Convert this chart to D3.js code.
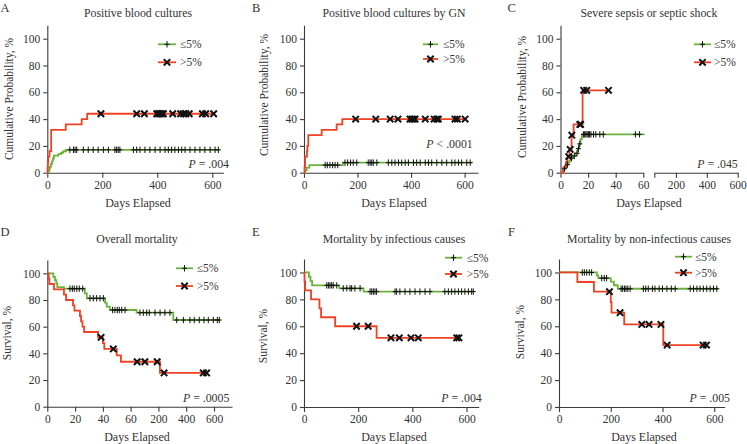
<!DOCTYPE html>
<html><head><meta charset="utf-8">
<script src="https://cdn.jsdelivr.net/npm/d3@7"></script>
<style>
body{margin:0;background:#fff;}
svg text{font-family:"Liberation Serif","DejaVu Serif",serif;fill:#333;}
</style></head><body>
<svg id="c" width="747" height="444"></svg>
<script>
// ---------------- DATA ----------------
const yTicks = [0, 20, 40, 60, 80, 100];
const xTicksLin = [0, 200, 400, 600];
const xTicksD = [0, 20, 40, 60, 200, 400, 600];
const xTicksCLeft = [0, 20, 40, 60];
const xTicksCRight = [60, 200, 400, 600];
const legendLabels = ["≤5%", ">5%"];

// A: Positive blood cultures
const aGreenT = [0, 5, 9, 13, 17, 20, 24, 40, 50, 58, 68];
const aGreenV = [0, 2.1, 4.3, 6.4, 8.5, 10.6, 12.8, 13.8, 14.9, 16, 17.1];
const aGreenCens = [82, 95, 101, 107, 131, 149, 167, 185, 204, 222, 246, 252, 258, 264, 313, 325, 337, 355, 373, 392, 410, 428, 440, 452, 464, 477, 489, 501, 519, 537, 555, 573, 592, 610, 622];
const aGreenEnd = 626;
const aRedT = [0, 1, 2, 3.5, 8, 14, 67, 125, 145];
const aRedV = [0, 4, 8, 12, 16, 32, 36, 40, 44];
const aRedCens = [195, 325, 353, 398, 404, 410, 416, 422, 456, 485, 495, 504, 516, 564, 576, 605];
const aRedEnd = 605;

// B: Positive blood cultures by GN
const bGreenT = [0, 5, 10, 20, 145];
const bGreenV = [0, 1.9, 3.8, 5.7, 7.5];
const bGreenCens = [79, 87, 97, 107, 116, 126, 153, 163, 174, 184, 197, 240, 247, 253, 259, 272, 315, 328, 340, 353, 365, 378, 390, 409, 421, 434, 453, 465, 477, 496, 515, 533, 552, 564, 577, 589, 608, 621];
const bGreenEnd = 627;
const bRedT = [0, 2, 4, 11, 12.5, 16, 66, 122, 143];
const bRedV = [0, 4, 12, 16, 20, 28, 32, 36, 40];
const bRedCens = [193, 268, 322, 351, 396, 403, 409, 415, 453, 486, 496, 502, 564, 573, 602];
const bRedEnd = 602;

// C: Severe sepsis or septic shock
const cGreenT = [0, 1.5, 2.5, 3.5, 4.5, 5.5, 6.5, 7.5, 9, 11, 12.5, 13.5, 14.5, 15.5];
const cGreenV = [0, 1.5, 3, 4.5, 6, 7.5, 9, 11, 12.5, 14.5, 18, 21.5, 25, 28.6];
const cGreenCens = [3, 5, 8, 10, 12, 13, 14, 16.6, 17.5, 18.4, 19.3, 20.2, 21, 22.1, 23.9, 25.6, 28.5, 31, 54.3, 57.2];
const cGreenEnd = 61;
const cRedT = [0, 2, 4, 5, 6.5, 8, 9.5, 16];
const cRedV = [0, 4, 8, 12, 17.4, 28, 36, 61.5];
const cRedCens = [6, 7, 8.2, 14, 14.6, 16.8, 19, 34.8];
const cRedEnd = 34.8;

// D: Overall mortality
const dGreenT = [0, 4.3, 5.5, 6.5, 7.2, 12, 27, 28.4, 41.5, 42.7, 45, 90, 307];
const dGreenV = [100, 97.4, 94.8, 92.2, 89.6, 88.5, 84.9, 81.3, 78, 75, 72.5, 70.5, 65];
const dGreenCens = [16.3, 18, 19.4, 21.2, 23, 25.5, 30.7, 33.1, 35.5, 37.9, 40.3, 47, 48.7, 50.4, 51.8, 53.6, 56, 107, 124, 141, 154, 183, 212, 247, 283, 332, 380, 427, 458, 494, 528, 559, 595, 624, 638];
const dGreenEnd = 643;
const dRedT = [0, 1, 1.5, 4.8, 12, 13.5, 18.5, 19.5, 23.5, 24.3, 25.3, 26.5, 36.5, 40, 41, 50, 53, 211];
const dRedV = [100, 96, 92, 88, 84, 80, 76, 72, 68, 64, 60, 56, 52, 47.7, 43.3, 38.5, 33.7, 25.3];
const dRedCens = [38.7, 47.5, 93, 132, 194, 241, 523, 547];
const dRedEnd = 547;

// E: Mortality by infectious causes
const eGreenT = [0, 18, 24, 30, 130, 220];
const eGreenV = [100, 96.8, 93.6, 90.4, 88.2, 85.8];
const eGreenCens = [84, 90, 96, 102, 108, 121, 145, 158, 170, 176, 188, 207, 244, 250, 256, 262, 268, 336, 342, 354, 373, 391, 410, 428, 447, 465, 520, 533, 545, 557, 570, 582, 594, 607, 619, 625];
const eGreenEnd = 625;
const eRedT = [0, 2, 4, 26, 57, 63, 115, 268];
const eRedV = [100, 93.3, 86.7, 80, 73.3, 66.7, 60, 51.4];
const eRedCens = [194, 237, 321, 352, 395, 422, 564, 572];
const eRedEnd = 572;

// F: Mortality by non-infectious causes
const fGreenT = [0, 146, 152, 200, 212, 227];
const fGreenV = [100, 97.9, 95.8, 93.2, 90.5, 87.9];
const fGreenCens = [90, 98, 107, 117, 126, 165, 175, 184, 240, 246, 253, 259, 266, 275, 326, 335, 345, 361, 371, 387, 400, 417, 434, 449, 507, 520, 533, 545, 558, 571, 584, 597, 610];
const fGreenEnd = 616;
const fRedT = [0, 71, 135, 200, 203, 252, 403];
const fRedV = [100, 92.9, 85.7, 77.9, 70.1, 61.4, 46];
const fRedCens = [195, 236, 320, 348, 394, 418, 557, 570];
const fRedEnd = 570;

const titles = ["Positive blood cultures", "Positive blood cultures by GN", "Severe sepsis or septic shock",
  "Overall mortality", "Mortality by infectious causes", "Mortality by non-infectious causes"];
const letters = ["A", "B", "C", "D", "E", "F"];
const pTexts = [".004", "< .0001", ".045", ".0005", ".004", ".005"];
const yLabels = ["Cumulative Probability, %", "Cumulative Probability, %", "Cumulative Probability, %", "Survival, %", "Survival, %", "Survival, %"];

// ---------------- DRAWING ----------------
const GREEN = "#69b33c", RED = "#ef4123", AX = "#3a3a3a";
const svg = d3.select("#c");

const panels = [
  {g:[aGreenT,aGreenV,aGreenCens,aGreenEnd], r:[aRedT,aRedV,aRedCens,aRedEnd],
   x: d3.scaleLinear().domain([0,640]).range([47.3,223.3]), xt:xTicksLin,
   y: d3.scaleLinear().domain([0,110]).range([172.7,25.3]),
   title:[138,16.7], letter:[0.5,11.7], ylab:[8.5,99], xlab:[138,207], p:[229,168.3],
   leg:{x0:158,x1:176,yg:44.3,yr:62.3,tx:180}},
  {g:[bGreenT,bGreenV,bGreenCens,bGreenEnd], r:[bRedT,bRedV,bRedCens,bRedEnd],
   x: d3.scaleLinear().domain([0,650]).range([304,478]), xt:xTicksLin,
   y: d3.scaleLinear().domain([0,110]).range([172.7,25.3]),
   title:[394,16.7], letter:[252,11.7], ylab:[263.5,95], xlab:[394,207], p:[472.7,148.3],
   leg:{x0:423,x1:438,yg:44.3,yr:59,tx:443}},
  {g:[cGreenT,cGreenV,cGreenCens,cGreenEnd], r:[cRedT,cRedV,cRedCens,cRedEnd],
   x: d3.scaleLinear().domain([0,60]).range([560.5,643.3]), xt:xTicksCLeft,
   x2: d3.scaleLinear().domain([60,600]).range([654.3,737.7]), xt2:xTicksCRight,
   y: d3.scaleLinear().domain([0,110]).range([172.7,25.3]),
   title:[649,16.7], letter:[507.5,11.7], ylab:[521.7,97], xlab:[649,207], p:[737.7,168.3],
   leg:{x0:694,x1:711,yg:44.3,yr:62.3,tx:714}},
  {g:[dGreenT,dGreenV,dGreenCens,dGreenEnd], r:[dRedT,dRedV,dRedCens,dRedEnd],
   x: d3.scaleLinear().domain([0,20,40,60,200,400,600,730]).range([47.3,75.1,102.9,130.6,158.4,186.2,214,232]), xt:xTicksD,
   y: d3.scaleLinear().domain([0,110]).range([406.7,260]),
   title:[137,243.3], letter:[0.5,235.7], ylab:[7.2,333], xlab:[137,440.5], p:[229.3,401.7],
   leg:{x0:176,x1:193,yg:268.3,yr:286,tx:196.7}},
  {g:[eGreenT,eGreenV,eGreenCens,eGreenEnd], r:[eRedT,eRedV,eRedCens,eRedEnd],
   x: d3.scaleLinear().domain([0,645]).range([304,478.7]), xt:xTicksLin,
   y: d3.scaleLinear().domain([0,110]).range([407,259]),
   title:[394,243], letter:[252,235.7], ylab:[263,336], xlab:[394,440.5], p:[481.7,401.7],
   leg:{x0:445,x1:462,yg:257.7,yr:274,tx:466.7}},
  {g:[fGreenT,fGreenV,fGreenCens,fGreenEnd], r:[fRedT,fRedV,fRedCens,fRedEnd],
   x: d3.scaleLinear().domain([0,640]).range([559,724.6]), xt:xTicksLin,
   y: d3.scaleLinear().domain([0,110]).range([407,259]),
   title:[649,243], letter:[508,235.7], ylab:[520,332], xlab:[644,440.5], p:[730,401.7],
   leg:{x0:675,x1:692,yg:256.7,yr:272.7,tx:695}}
];

function valueAt(T, V, t){ let v = V[0]; for (let i=0;i<T.length;i++){ if (T[i] <= t) v = V[i]; } return v; }
const plusPath = "M-2.5,0H2.5M0,-3.2V3.2";
const crossPath = "M-3.2,-3.2L3.2,3.2M-3.2,3.2L3.2,-3.2";

function styleAxis(g){
  g.selectAll("path.domain").attr("stroke", AX).attr("stroke-width", 1.1);
  g.selectAll(".tick line").attr("stroke", AX).attr("stroke-width", 1.1);
  g.selectAll(".tick text").attr("font-size", "11.5px").attr("fill", "#333")
    .style("font-family", '"Liberation Serif","DejaVu Serif",serif');
}

panels.forEach((p, i) => {
  const g = svg.append("g");
  const y = p.y, x = p.x;
  // axes
  const ya = g.append("g").attr("transform", `translate(${x.range()[0]},0)`)
    .call(d3.axisLeft(y).tickValues(yTicks).tickSize(4).tickPadding(3).tickSizeOuter(0));
  styleAxis(ya);
  const xa = g.append("g").attr("transform", `translate(0,${y(0)})`)
    .call(d3.axisBottom(x).tickValues(p.xt).tickFormat(d3.format("d")).tickSize(5).tickPadding(3).tickSizeOuter(0));
  styleAxis(xa);
  if (p.x2){
    const xa2 = g.append("g").attr("transform", `translate(0,${y(0)})`)
      .call(d3.axisBottom(p.x2).tickValues(p.xt2).tickFormat(d => d === 60 ? "" : d).tickSize(5).tickPadding(3).tickSizeOuter(0));
    styleAxis(xa2);
  }
  // curves
  const line = d3.line().curve(d3.curveStepAfter).x(d => x(d[0])).y(d => y(d[1]));
  [[p.g, GREEN, plusPath, 1], [p.r, RED, crossPath, 2]].forEach(([s, col, mk, sw]) => {
    const [T, V, C, E] = s;
    const pts = T.map((t, k) => [t, V[k]]);
    pts.push([E, V[V.length - 1]]);
    g.append("path").attr("d", line(pts)).attr("fill", "none").attr("stroke", col).attr("stroke-width", 1.8);
    s.col = col; s.mk = mk; s.sw = sw;
  });
  [[p.g, plusPath, 1], [p.r, crossPath, 2]].forEach(([s, mk, sw]) => {
    const [T, V, C] = s;
    g.selectAll(null).data(C).enter().append("path")
      .attr("d", mk).attr("transform", t => `translate(${x(t)},${y(valueAt(T, V, t))})`)
      .attr("stroke", "#111").attr("stroke-width", sw).attr("fill", "none");
  });
  // legend
  const L = p.leg;
  [[L.yg, GREEN, plusPath, 1, legendLabels[0]], [L.yr, RED, crossPath, 2, legendLabels[1]]].forEach(([yy, col, mk, sw, lab]) => {
    g.append("line").attr("x1", L.x0).attr("x2", L.x1).attr("y1", yy).attr("y2", yy).attr("stroke", col).attr("stroke-width", 1.8);
    g.append("path").attr("d", mk).attr("transform", `translate(${(L.x0 + L.x1) / 2},${yy})`).attr("stroke", "#111").attr("stroke-width", sw).attr("fill", "none");
    g.append("text").attr("x", L.tx).attr("y", yy).attr("dy", "0.35em").attr("font-size", "11.5px").text(lab);
  });
  // texts
  g.append("text").attr("x", p.title[0]).attr("y", p.title[1]).attr("text-anchor", "middle").attr("font-size", "11.8px").text(titles[i]);
  g.append("text").attr("x", p.letter[0]).attr("y", p.letter[1]).attr("font-size", "12.5px").text(letters[i]);
  g.append("text").attr("transform", `translate(${p.ylab[0]},${p.ylab[1]}) rotate(-90)`).attr("dy", "0.35em")
    .attr("text-anchor", "middle").attr("font-size", "11.5px").text(yLabels[i]);
  g.append("text").attr("x", p.xlab[0]).attr("y", p.xlab[1]).attr("text-anchor", "middle").attr("font-size", "12px").text("Days Elapsed");
  const pt = g.append("text").attr("x", p.p[0]).attr("y", p.p[1]).attr("text-anchor", "end").attr("font-size", "11.8px");
  pt.append("tspan").attr("font-style", "italic").text("P");
  pt.append("tspan").text(pTexts[i].startsWith("<") ? " " + pTexts[i] : " = " + pTexts[i]);
});
</script>
</body></html>
